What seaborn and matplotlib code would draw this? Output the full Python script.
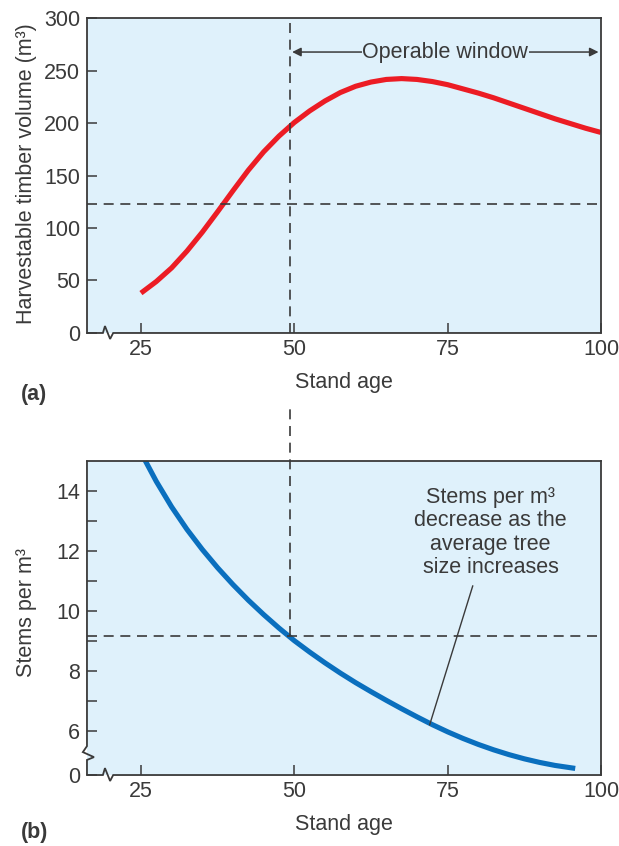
import seaborn as sns
import matplotlib.pyplot as plt
import numpy as np
import pandas as pd

sns.set_style("white")
plt.rcParams['font.family'] = ['Liberation Sans', 'DejaVu Sans']

# data
age_a = [25, 27.5, 30, 32.5, 35, 37.5, 40, 42.5, 45, 47.5, 50, 52.5, 55, 57.5, 60, 62.5,
         65, 67.5, 70, 72.5, 75, 77.5, 80, 82.5, 85, 87.5, 90, 92.5, 95, 97.5, 100]
volume = [38, 49, 62, 78, 96, 115.5, 135.5, 155, 172.5, 187.5, 200.5, 211.5, 221, 229, 235,
          239, 241.5, 242.3, 241.5, 239.5, 236.5, 232.5, 228.5, 224, 219, 214, 209, 204,
          199.5, 195, 191]

age_b = [25, 27.5, 30, 32.5, 35, 37.5, 40, 42.5, 45, 47.5, 50, 52.5, 55, 57.5, 60, 62.5,
         65, 67.5, 70, 72.5, 75, 77.5, 80, 82.5, 85, 87.5, 90, 92.5, 95.8]
stems = [15.28, 14.32, 13.47, 12.72, 12.05, 11.44, 10.88, 10.36, 9.88, 9.43, 9.01, 8.63,
         8.27, 7.93, 7.61, 7.31, 7.02, 6.74, 6.47, 6.21, 5.97, 5.75, 5.55, 5.37, 5.21, 5.07,
         4.95, 4.85, 4.75]

x_ticks = [25, 50, 75, 100]
vol_ticks = [0, 50, 100, 150, 200, 250, 300]
stem_ticks = [4.53, 6, 8, 10, 12, 14]
stem_labels = ["0", "6", "8", "10", "12", "14"]
stem_minor = [7, 9, 11, 13]

cut_age = 49.35
cut_volume = 123
cut_stems = 9.15

bg = "#dff1fb"
dark = "#3a3a3a"
red = "#ec1c24"
blue = "#0a6fbe"
fs = 15.5
dash = (0, (6, 4))

dfa = pd.DataFrame({"age": age_a, "volume": volume})
dfb = pd.DataFrame({"age": age_b, "stems": stems})

fig = plt.figure(figsize=(6.19, 8.46), dpi=100)
ax1 = fig.add_axes([0.1405, 0.6064, 0.8304, 0.3723])
ax2 = fig.add_axes([0.1405, 0.0839, 0.8304, 0.3712])


def spine_line(ax, xs, ys):
    ax.plot(xs, ys, transform=ax.transAxes, color=dark, lw=1.3, clip_on=False,
            zorder=6, solid_joinstyle="miter")


for ax in (ax1, ax2):
    ax.set_facecolor(bg)
    for s in ax.spines.values():
        s.set_color(dark)
        s.set_linewidth(1.3)
    ax.spines["bottom"].set_visible(False)
    ax.tick_params(direction="in", length=7, width=1.1, color=dark, bottom=True, left=True,
                   labelsize=fs, labelcolor=dark)
    ax.tick_params(axis="x", pad=4)
    ax.tick_params(axis="y", pad=5)
    ax.set_xlim(16.2, 100)
    ax.set_xticks(x_ticks)
    ax.set_xlabel("Stand age", fontsize=fs, color=dark, labelpad=9)
    # x axis with break mark
    spine_line(ax, [0, 0.031, 0.035, 0.045, 0.051, 1], [0, 0, 0.022, -0.019, 0, 0])

# panel a
sns.lineplot(data=dfa, x="age", y="volume", ax=ax1, color=red, lw=3.7, solid_capstyle="butt")
ax1.set_ylim(0, 300)
ax1.set_yticks(vol_ticks)
ax1.set_ylabel("Harvestable timber volume (m³)", fontsize=fs, color=dark)
ax1.yaxis.set_label_coords(-0.098, 0.505)
ax1.axhline(cut_volume, color=dark, lw=1.2, ls=dash)
ax1.axvline(cut_age, color=dark, lw=1.2, ls=dash)
ax1.text(74.6, 267.6, "Operable window", ha="center", va="center", fontsize=fs, color=dark,
         bbox=dict(facecolor=bg, edgecolor="none", pad=0.5), zorder=4)
ax1.annotate("", xy=(cut_age + 0.3, 267.6), xytext=(66, 267.6),
             arrowprops=dict(arrowstyle="-|>", color=dark, lw=1.1, mutation_scale=13,
                             shrinkA=0, shrinkB=0), zorder=3)
ax1.annotate("", xy=(99.6, 267.6), xytext=(84, 267.6),
             arrowprops=dict(arrowstyle="-|>", color=dark, lw=1.1, mutation_scale=13,
                             shrinkA=0, shrinkB=0), zorder=3)
ax1.text(-0.128, -0.196, "(a)", transform=ax1.transAxes, fontsize=fs, fontweight="bold",
         color=dark, va="center")

# panel b
sns.lineplot(data=dfb, x="age", y="stems", ax=ax2, color=blue, lw=3.7, solid_capstyle="butt")
ax2.set_ylim(4.53, 15)
ax2.set_yticks(stem_ticks)
ax2.set_yticklabels(stem_labels)
ax2.set_yticks(stem_minor, minor=True)
ax2.tick_params(which="minor", direction="in", length=7, width=1.1, color=dark, left=True)
ax2.set_ylabel("Stems per m³", fontsize=fs, color=dark)
ax2.yaxis.set_label_coords(-0.098, 0.516)
ax2.axhline(cut_stems, color=dark, lw=1.2, ls=dash)
ax2.plot([cut_age, cut_age], [cut_stems, 16.86], color=dark, lw=1.2, ls=dash, clip_on=False)
ax2.text(82.0, 12.62, "Stems per m³\ndecrease as the\naverage tree\nsize increases",
         ha="center", va="center", fontsize=fs, color=dark, linespacing=1.15)
ax2.annotate("", xy=(72.06, 6.2), xytext=(79.1, 10.84),
             arrowprops=dict(arrowstyle="-", color=dark, lw=1, shrinkA=0, shrinkB=0))
ax2.text(-0.128, -0.183, "(b)", transform=ax2.transAxes, fontsize=fs, fontweight="bold",
         color=dark, va="center")

# y axis with break mark
ax2.spines["left"].set_visible(False)
spine_line(ax2, [0, 0, 0.0136, -0.008, 0, 0], [0, 0.048, 0.057, 0.073, 0.092, 1])

fig.savefig("out.png", dpi=100)
